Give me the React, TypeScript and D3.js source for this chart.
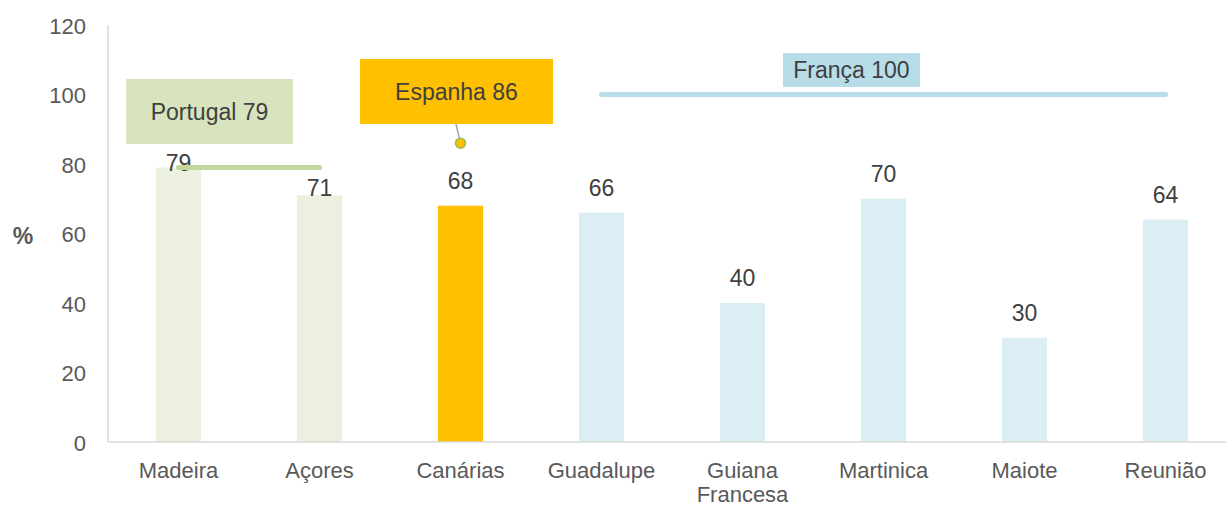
import * as d3 from "d3";
import React from "react";

const regions = ["Madeira", "Açores", "Canárias", "Guadalupe", "Guiana Francesa", "Martinica", "Maiote", "Reunião"];
const values = [79, 71, 68, 66, 40, 70, 30, 64];
const groups = ["pt", "pt", "es", "fr", "fr", "fr", "fr", "fr"];
const yTicks = [0, 20, 40, 60, 80, 100, 120];

// national averages: label, value, first and last region they span
const nationalNames = ["Portugal", "Espanha", "França"];
const nationalValues = [79, 86, 100];
const nationalFrom = ["Madeira", "Canárias", "Guadalupe"];
const nationalTo = ["Açores", "Canárias", "Reunião"];

const WIDTH = 1226;
const HEIGHT = 507;

const barColor: Record<string, string> = { pt: "#ebf1de", es: "#ffc000", fr: "#daeef3" };
const FONT = "'Liberation Sans', Arial, sans-serif";

export default function App() {
	const x = d3.scaleBand().domain(regions).range([108, 1236]).paddingInner(0.68).paddingOuter(0.34);
	const y = d3.scaleLinear().domain([0, 120]).range([442, 25]);
	const cx = (r: string) => (x(r) as number) + x.bandwidth() / 2;

	// labels that would clash with the Portugal line sit lower
	const labelGap = (i: number) => (i === 0 ? -4 : i === 1 ? -1 : 17);

	const pt = { x0: cx(nationalFrom[0]), x1: cx(nationalTo[0]), y: y(nationalValues[0]) };
	const es = { x: cx(nationalFrom[1]), y: y(nationalValues[1]) };
	const fr = { x0: cx(nationalFrom[2]), x1: cx(nationalTo[2]), y: y(nationalValues[2]) };

	return (
		<svg width={WIDTH} height={HEIGHT} style={{ position: "absolute", left: 0, top: 0 }} fontFamily={FONT}>
			<text x={23} y={236} fontSize={23} fontWeight="bold" fill="#595959" textAnchor="middle" dominantBaseline="central">
				%
			</text>
			{yTicks.map((t) => (
				<text key={t} x={86} y={y(t) + 1} fontSize={22} fill="#595959" textAnchor="end" dominantBaseline="central">
					{t}
				</text>
			))}
			<line x1={108} x2={108} y1={25} y2={442} stroke="#d9d9d9" strokeWidth={1.5} />

			{regions.map((r, i) => (
				<rect key={r} x={x(r)} y={y(values[i])} width={x.bandwidth()} height={y(0) - y(values[i])} fill={barColor[groups[i]]} />
			))}
			<line x1={108} x2={WIDTH} y1={442} y2={442} stroke="#d9d9d9" strokeWidth={1.5} />

			{regions.map((r, i) => (
				<text key={r} x={cx(r)} y={y(values[i]) - labelGap(i)} fontSize={23} fill="#404040" textAnchor="middle">
					{values[i]}
				</text>
			))}

			{regions.map((r) => {
				const words = r === "Guiana Francesa" ? ["Guiana", "Francesa"] : [r];
				return words.map((w, k) => (
					<text key={w} x={cx(r)} y={478 + k * 24} fontSize={22} fill="#595959" textAnchor="middle">
						{w}
					</text>
				));
			})}

			{/* Portugal */}
			<line x1={pt.x0} x2={pt.x1} y1={pt.y} y2={pt.y} stroke="#c3d69b" strokeWidth={5} strokeLinecap="round" />
			<rect x={126} y={79} width={167} height={65} fill="#d7e4bd" />
			<text x={209.5} y={111.5} fontSize={23} fill="#404040" textAnchor="middle" dominantBaseline="central">
				{`${nationalNames[0]} ${nationalValues[0]}`}
			</text>

			{/* Espanha */}
			<line x1={456} y1={124} x2={es.x} y2={es.y} stroke="#a6a6a6" strokeWidth={1.5} />
			<circle cx={es.x} cy={es.y} r={5} fill="#ffc000" stroke="#9bbb59" strokeWidth={1.5} />
			<rect x={360} y={59} width={193} height={65} fill="#ffc000" />
			<text x={456.5} y={91.5} fontSize={23} fill="#404040" textAnchor="middle" dominantBaseline="central">
				{`${nationalNames[1]} ${nationalValues[1]}`}
			</text>

			{/* França */}
			<line x1={fr.x0} x2={fr.x1} y1={fr.y} y2={fr.y} stroke="#b7dde8" strokeWidth={5} strokeLinecap="round" />
			<rect x={783} y={53} width={137} height={34} fill="#b7dde8" />
			<text x={851.5} y={70} fontSize={23} fill="#404040" textAnchor="middle" dominantBaseline="central">
				{`${nationalNames[2]} ${nationalValues[2]}`}
			</text>
		</svg>
	);
}
